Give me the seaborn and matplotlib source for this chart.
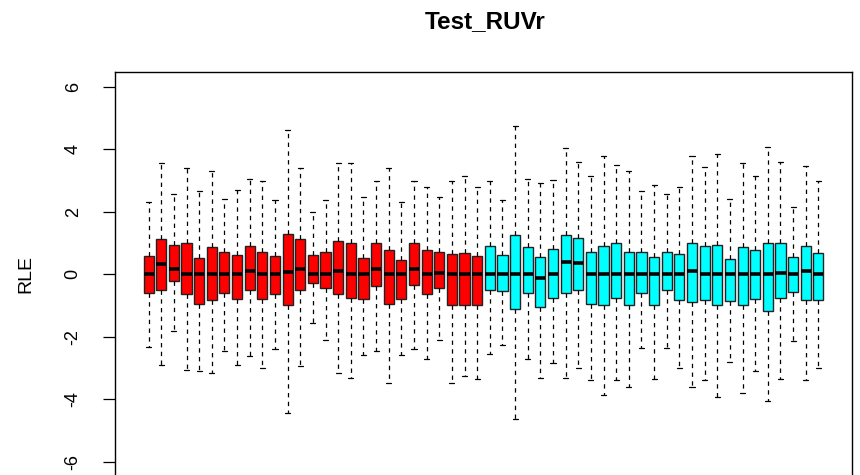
import numpy as np
import pandas as pd
import matplotlib
matplotlib.use("Agg")
import matplotlib.pyplot as plt
import seaborn as sns

# Per-sample RLE summary: lower whisker, Q1, median, Q3, upper whisker
whisker_low = [-2.34, -2.91, -1.82, -3.06, -3.09, -3.15, -2.45, -2.91, -2.63, -3.01,
               -2.38, -4.45, -2.93, -1.57, -2.10, -3.16, -3.31, -2.59, -2.45, -3.48,
               -2.59, -2.38, -2.70, -2.12, -3.47, -3.26, -3.35,
               -2.56, -2.27, -4.64, -2.71, -3.33, -2.84, -3.31, -3.01, -3.40, -3.87,
               -3.40, -3.60, -2.36, -3.35, -2.36, -3.01, -3.60, -3.39, -3.92, -2.82,
               -3.81, -3.09, -4.05, -3.36, -2.15, -3.39, -3.01]
q1 = [-0.61, -0.52, -0.22, -0.62, -0.94, -0.81, -0.59, -0.80, -0.51, -0.80,
      -0.64, -1.00, -0.50, -0.29, -0.44, -0.64, -0.76, -0.80, -0.37, -0.94,
      -0.80, -0.35, -0.64, -0.43, -1.00, -1.00, -1.00,
      -0.50, -0.55, -1.10, -0.61, -1.04, -0.75, -0.60, -0.49, -0.94, -1.00,
      -0.77, -1.00, -0.60, -1.00, -0.51, -0.83, -0.88, -0.82, -1.00, -0.87,
      -1.00, -0.79, -1.18, -0.77, -0.56, -0.82, -0.83]
median = [0.00, 0.33, 0.16, 0.00, 0.00, 0.00, 0.00, 0.00, 0.11, 0.00,
          0.00, 0.08, 0.18, 0.00, 0.00, 0.11, 0.00, 0.00, 0.18, 0.00,
          0.00, 0.16, 0.00, 0.05, 0.00, 0.00, 0.00,
          0.02, 0.00, 0.00, 0.00, -0.11, 0.00, 0.40, 0.36, 0.00, 0.00,
          0.00, 0.00, 0.00, 0.00, 0.00, 0.00, 0.11, 0.00, 0.00, 0.00,
          0.00, 0.00, 0.00, 0.03, 0.00, 0.12, 0.00]
q3 = [0.58, 1.13, 0.93, 0.99, 0.51, 0.87, 0.70, 0.62, 0.92, 0.72,
      0.58, 1.28, 1.13, 0.63, 0.71, 1.08, 0.99, 0.53, 1.00, 0.79,
      0.47, 1.00, 0.79, 0.72, 0.64, 0.67, 0.58,
      0.89, 0.63, 1.27, 0.87, 0.54, 0.80, 1.25, 1.16, 0.71, 0.91,
      0.99, 0.71, 0.71, 0.56, 0.71, 0.65, 0.99, 0.91, 0.95, 0.48,
      0.87, 0.78, 0.99, 0.99, 0.56, 0.91, 0.69]
whisker_high = [2.33, 3.58, 2.57, 3.42, 2.68, 3.31, 2.42, 2.71, 3.06, 2.99,
                2.39, 4.62, 3.40, 1.99, 2.37, 3.57, 3.57, 2.46, 2.98, 3.40,
                2.33, 3.00, 2.81, 2.46, 2.99, 3.16, 2.81,
                2.99, 2.38, 4.75, 3.04, 2.93, 3.02, 4.03, 3.59, 3.15, 3.80,
                3.50, 3.31, 2.68, 2.86, 2.57, 2.80, 3.80, 3.43, 3.85, 2.42,
                3.58, 3.15, 4.07, 3.60, 2.15, 3.47, 2.99]

n_per_group = 27
groups = ["control"] * n_per_group + ["treated"] * n_per_group
samples = [f"S{i + 1}" for i in range(len(median))]
group_colors = {"control": "#FF0000", "treated": "#00FFFF"}
y_ticks = [-6, -4, -2, 0, 2, 4, 6]

# Five summary points per sample: with whiskers spanning the full range,
# the quartiles of these points are exactly q1 / median / q3.
rows = []
for s, g, lo, a, m, b, hi in zip(samples, groups, whisker_low, q1, median, q3, whisker_high):
    for v in (lo, a, m, b, hi):
        rows.append({"sample": s, "group": g, "RLE": v})
df = pd.DataFrame(rows)

sns.set_theme(style="white")
plt.rcParams["font.family"] = ["Liberation Sans", "DejaVu Sans"]
plt.rcParams["text.color"] = "black"
plt.rcParams["ytick.color"] = "black"
plt.rcParams["ytick.labelcolor"] = "black"

W, H = 860, 475
fig = plt.figure(figsize=(W / 100, H / 100), dpi=100)
ax_l, ax_r, ax_t, ax_b = 115, 852, 72, 476.5
ax = fig.add_axes([ax_l / W, 1 - ax_b / H, (ax_r - ax_l) / W, (ax_b - ax_t) / H])

sns.boxplot(
    data=df, x="sample", y="RLE", hue="group", order=samples,
    palette=group_colors, dodge=False, saturation=1, width=0.8,
    whis=(0, 100), linecolor="#222222", linewidth=1.0, legend=False,
    medianprops=dict(color="black", linewidth=2.6),
    whiskerprops=dict(color="black", linestyle=(0, (3.5, 3.5)), linewidth=0.9),
    capprops=dict(color="black", linewidth=0.9),
    ax=ax,
)

ax.set_xlim(-2.66, len(samples) - 1 + 2.66)
ax.set_ylim(-6.48, 6.48)
ax.set_xticks([])
ax.set_yticks(y_ticks)
ax.set_yticklabels([str(t) for t in y_ticks], rotation=90, va="center",
                   fontsize=13, color="black")
ax.tick_params(axis="y", left=True, length=9, width=0.9, color="black", pad=15)
ax.set_xlabel("")
ax.set_ylabel("")
for sp in ax.spines.values():
    sp.set_visible(True)
    sp.set_color("black")
    sp.set_linewidth(1.0)

fig.text(25.5 / W, 1 - 274 / H, "RLE", rotation=90, ha="center", va="center",
         fontsize=14, color="black")
fig.text(485.5 / W, 1 - 22 / H, "Test_RUVr", ha="center", va="center",
         fontsize=17.5, fontweight="bold", color="black")

fig.savefig("out.png", dpi=100, facecolor="white")
